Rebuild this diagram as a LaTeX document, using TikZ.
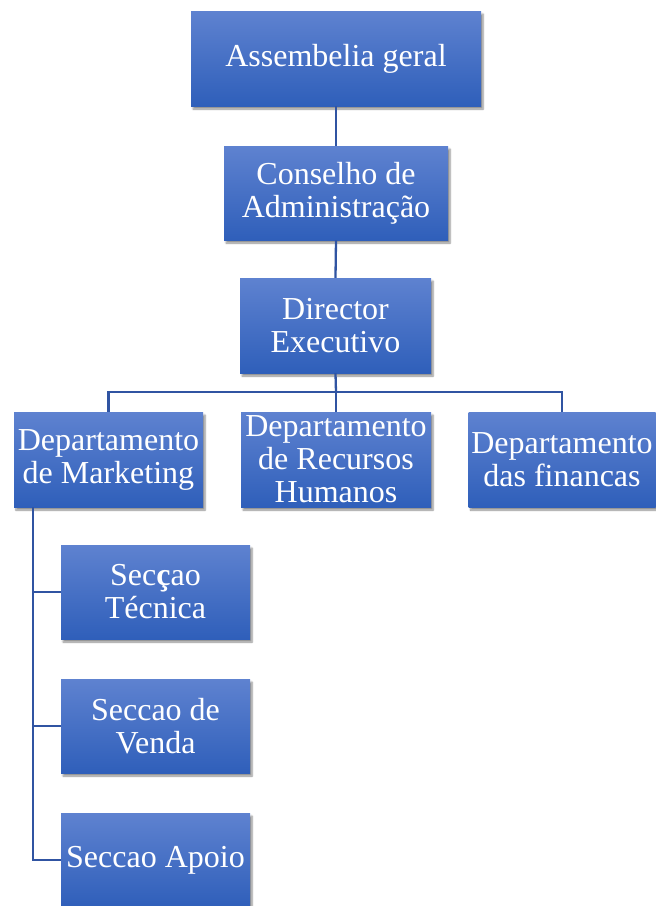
\documentclass[tikz,border=0pt]{standalone}
\usepackage{fontspec}
\setmainfont{Liberation Serif}
\usetikzlibrary{shadows.blur}
\definecolor{boxtop}{RGB}{94,130,208}
\definecolor{boxbot}{RGB}{47,95,186}
\definecolor{linkc}{RGB}{48,84,162}
\tikzset{
  orgbox/.style={top color=boxtop, bottom color=boxbot, draw=none,
    text=white, align=center, inner sep=0pt,
    font=\fontsize{32pt}{33pt}\selectfont,
    blur shadow={shadow xshift=2pt, shadow yshift=-3pt, shadow blur steps=6, shadow opacity=45}},
  link/.style={draw=linkc, line width=2.3pt}
}
\begin{document}
\begin{tikzpicture}[x=1pt,y=1pt]
\useasboundingbox (0,0) rectangle (656,-906);
\coordinate (bus) at (336,-392);
\node[orgbox, minimum width=290pt, minimum height=95pt] (ag) at (336,-58.5) {Assembelia geral};
\node[orgbox, minimum width=224pt, minimum height=94pt] (ca) at (336,-193) {Conselho de\\Administração};
\node[orgbox, minimum width=191pt, minimum height=95pt] (de) at (335.5,-325.5) {Director\\Executivo};
\node[orgbox, minimum width=189pt, minimum height=95pt] (dm) at (108.5,-459.5) {Departamento\\de Marketing};
\node[orgbox, minimum width=190pt, minimum height=95pt] (rh) at (336,-459.5) {Departamento\\de Recursos\\Humanos};
\node[orgbox, minimum width=187pt, minimum height=95pt] (df) at (562,-459.5) {Departamento\\das financas};
\node[orgbox, minimum width=189pt, minimum height=94pt] (st) at (155.5,-592) {Sec\textbf{ç}ao\\Técnica};
\node[orgbox, minimum width=189pt, minimum height=94pt] (sv) at (155.5,-726) {Seccao de\\Venda};
\node[orgbox, minimum width=189pt, minimum height=94pt] (sa) at (155.5,-860) {Seccao Apoio};
\draw[link] (ag.south) -- (ca.north);
\draw[link] (ca.south) -- (de.north);
\draw[link] (de.south) -- (bus);
\draw[link] (dm.north) |- (bus) -| (df.north);
\draw[link] (bus) -- (rh.north);
\coordinate (mk) at ([xshift=19pt]dm.south west);
\draw[link] (mk) |- (st.west);
\draw[link] (mk) |- (sv.west);
\draw[link] (mk) |- (sa.west);
\end{tikzpicture}
\end{document}
